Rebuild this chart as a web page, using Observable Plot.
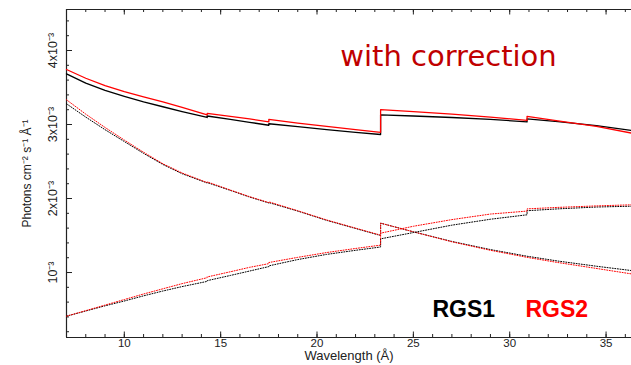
<!DOCTYPE html>
<html><head><meta charset="utf-8">
<script src="https://cdn.jsdelivr.net/npm/d3@7"></script>
<script src="https://cdn.jsdelivr.net/npm/@observablehq/plot@0.6"></script>
<style>body{margin:0;background:#fff} svg{display:block}</style>
</head><body><div id="chart"></div>
<script>
// Wavelength grid (Å); repeated values mark the instrumental jumps
const wavelength = [7,8,9,10,11,12,13,14.3,14.3,15.5,16.5,17.5,17.5,19,20.5,22,23.3,23.3,25,27,29,30.9,30.9,32.5,34.5,36.3];
// Values in units of 10^-3 photons cm^-2 s^-1 Å^-1
const rgs1Total   = [3.685,3.56,3.46,3.38,3.305,3.24,3.175,3.095,3.115,3.07,3.03,2.99,3.01,2.97,2.93,2.895,2.865,3.13,3.115,3.095,3.07,3.035,3.075,3.04,2.985,2.92];
const rgs2Total   = [3.743,3.625,3.525,3.445,3.375,3.305,3.23,3.13,3.15,3.11,3.075,3.035,3.07,3.02,2.975,2.93,2.895,3.2,3.175,3.14,3.1,3.055,3.11,3.05,2.975,2.885];
const rgs1Falling = [3.28,3.10,2.93,2.77,2.61,2.46,2.335,2.21,2.215,2.11,2.02,1.94,1.945,1.83,1.705,1.595,1.50,1.667,1.55,1.42,1.31,1.22,1.22,1.155,1.085,1.027];
const rgs2Falling = [3.334,3.14,2.96,2.79,2.625,2.47,2.345,2.215,2.225,2.115,2.025,1.945,1.955,1.835,1.71,1.6,1.505,1.667,1.55,1.415,1.3,1.205,1.205,1.135,1.055,0.982];
const rgs1Rising  = [0.41,0.48,0.55,0.615,0.685,0.75,0.81,0.88,0.89,0.96,1.02,1.08,1.09,1.175,1.245,1.30,1.345,1.455,1.54,1.64,1.72,1.78,1.835,1.86,1.885,1.896];
const rgs2Rising  = [0.41,0.485,0.56,0.635,0.71,0.78,0.85,0.93,0.94,1.01,1.07,1.12,1.135,1.205,1.27,1.325,1.37,1.532,1.625,1.715,1.79,1.83,1.86,1.88,1.90,1.915];

const detectors = ["RGS1", "RGS2"];
const xTickLabels = [10, 15, 20, 25, 30, 35];
const yTickLabels = [1, 2, 3, 4];
const yTickText = ["10⁻³", "2x10⁻³", "3x10⁻³", "4x10⁻³"];
const xMinor = d3.range(7, 37);
const yMinor = d3.range(1, 23).map(i => i * 0.2);
const xDomain = [7, 36.32];
const yDomain = [0.122, 4.554];

const series = [
  {det: "RGS1", kind: "total", v: rgs1Total},
  {det: "RGS2", kind: "total", v: rgs2Total},
  {det: "RGS1", kind: "comp", v: rgs1Falling},
  {det: "RGS2", kind: "comp", v: rgs2Falling},
  {det: "RGS1", kind: "comp", v: rgs1Rising},
  {det: "RGS2", kind: "comp", v: rgs2Rising}
];
const rows = series.flatMap((s, si) => s.v.map((v, i) => ({wl: wavelength[i], v, det: s.det, kind: s.kind, id: si})));

const W = 631, H = 365, mT = 9, mB = 28, mL = 66, mR = 0;
const innerH = H - mT - mB, innerW = W - mL - mR;
const axisColor = "#222";

const chart = Plot.plot({
  width: W, height: H,
  marginTop: mT, marginBottom: mB, marginLeft: mL, marginRight: mR,
  style: {background: "#fff", fontFamily: "Liberation Sans, Arial, sans-serif", overflow: "visible"},
  x: {domain: xDomain, axis: null},
  y: {domain: yDomain, axis: null},
  color: {domain: detectors, range: ["#000000", "#ff0000"]},
  marks: [
    // frame lines (left, bottom, top)
    Plot.ruleX([xDomain[0]], {stroke: axisColor, strokeWidth: 1.2}),
    Plot.ruleY([yDomain[0]], {stroke: axisColor, strokeWidth: 1.2}),
    Plot.ruleY([yDomain[1]], {stroke: axisColor, strokeWidth: 1.2}),
    // inward ticks
    Plot.tickX(xMinor, {x: d => d, insetTop: innerH - 3, stroke: axisColor}),
    Plot.tickX(xTickLabels, {x: d => d, insetTop: innerH - 5.5, stroke: axisColor}),
    Plot.tickX(xMinor, {x: d => d, insetBottom: innerH - 3, stroke: axisColor}),
    Plot.tickX(xTickLabels, {x: d => d, insetBottom: innerH - 5.5, stroke: axisColor}),
    Plot.tickY(yMinor, {y: d => d, insetRight: innerW - 3, stroke: axisColor}),
    Plot.tickY(yTickLabels, {y: d => d, insetRight: innerW - 6, stroke: axisColor}),
    // tick labels
    Plot.text(xTickLabels, {x: d => d, frameAnchor: "bottom", dy: 9, text: d => String(d), fontSize: 11.5, fill: "#222"}),
    Plot.text(yTickLabels, {y: d => d, frameAnchor: "left", textAnchor: "middle", dx: -14, rotate: -90, text: (d, i) => yTickText[i], fontSize: 12.5, fill: "#222"}),
    // axis titles
    Plot.text(["Wavelength (Å)"], {frameAnchor: "bottom", dy: 22, text: d => d, fontSize: 13, letterSpacing: "0.5px", fill: "#222"}),
    Plot.text(["Photons cm⁻² s⁻¹ Å⁻¹"], {frameAnchor: "left", textAnchor: "middle", dx: -39, rotate: -90, text: d => d, fontSize: 12, fill: "#222"}),
    // dotted components
    Plot.line(rows.filter(d => d.kind === "comp"), {x: "wl", y: "v", z: "id", stroke: "det", strokeWidth: 1, strokeDasharray: "1,1.6"}),
    // solid totals
    Plot.line(rows.filter(d => d.kind === "total"), {x: "wl", y: "v", z: "id", stroke: "det", strokeWidth: 1.3}),
    // annotations
    Plot.text(["with correction"], {frameAnchor: "top-right", dx: -183, dy: 56, textAnchor: "middle", lineAnchor: "bottom", text: d => d, fontSize: 29, fill: "#c00000", fontFamily: "DejaVu Sans, Verdana, sans-serif"}),
    Plot.text(["RGS1"], {frameAnchor: "bottom-right", dx: -199, dy: -21, textAnchor: "start", lineAnchor: "bottom", text: d => d, fontSize: 23, fontWeight: "bold", fill: "#000"}),
    Plot.text(["RGS2"], {frameAnchor: "bottom-right", dx: -106, dy: -21, textAnchor: "start", lineAnchor: "bottom", text: d => d, fontSize: 23, fontWeight: "bold", fill: "#ff0000"})
  ]
});
document.getElementById("chart").appendChild(chart);
</script>
</body></html>
